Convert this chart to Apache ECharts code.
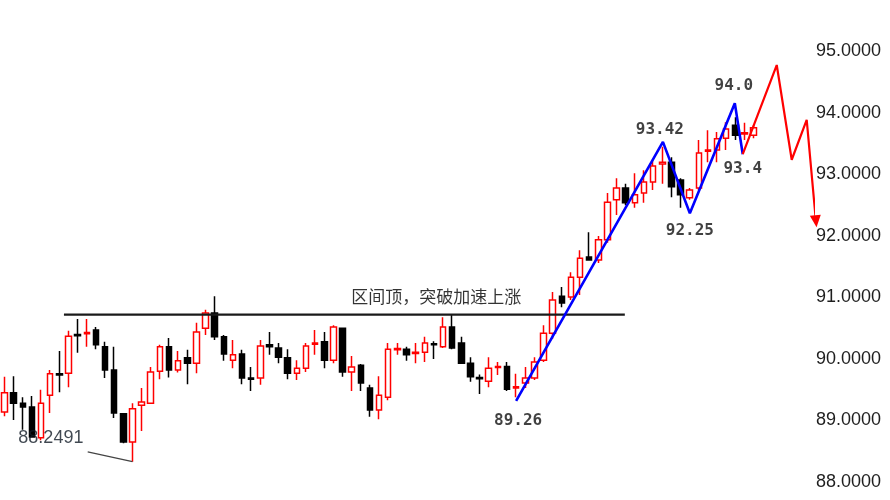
<!DOCTYPE html>
<html>
<head>
<meta charset="utf-8">
<script src="https://cdn.jsdelivr.net/npm/echarts@6/dist/echarts.min.js"></script>
<style>
  html, body { margin: 0; padding: 0; background: #fff; }
  #chart { width: 890px; height: 500px; }
</style>
</head>
<body>
<div id="chart"></div>
<script>
// ---- Candles (open / close / low / high), one per bar ----
const opens  = [89.14,89.45,89.28,89.22,88.72,89.41,89.76,89.77,90.40,90.41,90.47,90.20,89.82,89.11,88.65,89.25,89.28,89.80,90.20,89.82,90.02,89.93,90.50,90.75,90.36,89.98,90.08,89.69,89.69,90.23,90.18,90.02,89.77,89.85,90.24,90.28,89.98,90.50,89.79,89.90,89.53,89.17,89.38,90.15,90.16,90.09,90.11,90.25,90.20,90.52,90.26,89.93,89.70,89.64,89.86,89.88,89.53,89.61,89.69,89.98,90.42,91.02,91.01,91.33,91.66,91.61,91.94,92.59,92.78,92.54,92.70,92.88,93.17,93.20,92.91,92.62,92.78,93.38,93.40,93.59,93.80,93.66,93.64];
const closes = [89.45,89.28,89.22,88.73,89.28,89.76,89.74,90.37,90.38,90.43,90.23,89.82,89.12,88.65,89.19,89.30,89.79,90.20,89.82,89.97,89.93,90.44,90.75,90.36,90.08,90.07,89.69,89.67,90.21,90.20,90.03,89.77,89.85,90.21,90.26,89.98,90.52,89.79,89.87,89.61,89.17,89.41,90.16,90.17,90.07,90.11,90.26,90.23,90.52,90.18,89.93,89.71,89.68,89.85,89.88,89.51,89.55,89.69,89.95,90.42,90.96,90.91,91.33,91.64,91.61,91.94,92.55,92.78,92.54,92.67,92.88,93.14,93.20,92.80,92.67,92.75,93.35,93.40,93.58,93.74,93.64,93.68,93.76];
const lows   = [89.07,89.01,88.85,88.72,88.68,89.12,89.46,89.54,90.10,90.20,90.16,89.69,89.04,88.63,88.33,88.83,89.27,89.67,89.70,89.78,89.59,89.77,90.39,90.31,89.97,89.85,89.59,89.48,89.58,90.07,89.93,89.67,89.66,89.79,90.07,89.85,89.93,89.71,89.48,89.48,89.06,89.02,89.33,90.07,89.97,89.93,89.95,90.00,90.18,90.16,89.92,89.63,89.43,89.54,89.74,89.48,89.38,89.53,89.66,89.95,90.33,90.84,90.96,91.04,91.61,91.56,91.89,92.34,92.50,92.46,92.54,92.75,92.85,92.63,92.46,92.59,92.75,93.20,93.20,93.40,93.56,93.56,93.59];
const highs  = [89.71,89.72,89.38,89.40,89.50,89.82,90.13,90.46,90.65,90.65,90.52,90.28,90.20,89.11,89.28,89.53,89.87,90.23,90.34,90.13,90.15,90.59,90.80,91.02,90.39,90.31,90.15,89.87,90.31,90.44,90.26,90.16,89.98,90.26,90.47,90.44,90.55,90.51,90.05,89.92,89.58,89.72,90.26,90.26,90.20,90.26,90.36,90.29,90.68,90.72,90.36,90.03,89.75,90.03,89.95,89.95,89.76,89.87,90.03,90.55,91.09,91.17,91.41,91.77,92.06,92.00,92.70,92.94,92.85,93.02,93.07,93.24,93.45,93.28,92.94,92.78,93.56,93.72,93.69,93.85,93.93,93.84,93.80];

// total bar slots on the axis (candles plus room for the projection)
const slotCount = 89;
const categories = Array.from({ length: slotCount }, (_, i) => 'B' + (i + 1));

// ---- Price axis ----
const yMin = 88, yMax = 95, yStep = 1;

// ---- Drawn lines, [bar position, price] ----
const resistanceLine = [[6.5, 90.72], [67.9, 90.72]];
const lowMarkLine    = [[9.1, 88.49], [14.0, 88.33]];
const blueWave       = [[56.0, 89.32], [72.07, 93.53], [75.02, 92.37], [79.94, 94.16], [80.81, 93.33]];
const redProjection  = [[80.81, 93.33], [84.53, 94.78], [86.17, 93.24], [87.81, 93.89], [88.82, 92.24]];

// ---- Text annotations, [bar position, price, text] ----
const lowLabel    = [[5.07, 88.71, '88.2491']];
const waveLabels  = [[56.22, 88.99, '89.26'], [71.74, 93.73, '93.42'], [75.02, 92.08, '92.25'], [79.83, 94.44, '94.0'], [80.81, 93.10, '93.4']];
const noteLabels  = [[47.26, 91.02, '区间顶，突破加速上涨']];

const candleData = opens.map((o, i) => [o, closes[i], lows[i], highs[i]]);

function textSeries(list, style) {
  return {
    type: 'scatter', xAxisIndex: 1, yAxisIndex: 0,
    symbolSize: 1, itemStyle: { color: 'transparent' },
    silent: true, z: 10,
    label: Object.assign({ show: true, position: 'inside', formatter: p => p.data.name }, style),
    data: list.map(d => ({ name: d[2], value: [d[0], d[1]] }))
  };
}

const chart = echarts.init(document.getElementById('chart'), null, { renderer: 'canvas' });
chart.setOption({
  animation: false,
  backgroundColor: '#ffffff',
  grid: { left: -1, right: 77, top: 51.5, bottom: 18, containLabel: false },
  xAxis: [
    { type: 'category', data: categories, boundaryGap: true, show: false },
    { type: 'value', min: -0.5, max: slotCount - 0.5, show: false }
  ],
  yAxis: {
    type: 'value', position: 'right', min: yMin, max: yMax, interval: yStep, scale: true,
    axisLine: { show: false }, axisTick: { show: false }, splitLine: { show: false },
    axisLabel: {
      margin: 3, color: '#1e1e1e', fontSize: 18, fontFamily: 'Liberation Sans',
      formatter: v => v.toFixed(4)
    }
  },
  series: [
    {
      type: 'candlestick', xAxisIndex: 0, yAxisIndex: 0,
      barWidth: 6,
      itemStyle: {
        color: '#ffffff', borderColor: '#ff0000',
        color0: '#000000', borderColor0: '#000000',
        borderWidth: 1.5
      },
      data: candleData
    },
    {
      type: 'line', xAxisIndex: 1, data: resistanceLine, symbol: 'none', clip: false, z: 5,
      lineStyle: { color: '#1a1a1a', width: 2.2 }
    },
    {
      type: 'line', xAxisIndex: 1, data: lowMarkLine, symbol: 'none', clip: false, z: 5,
      lineStyle: { color: '#444444', width: 1.2 }
    },
    {
      type: 'line', xAxisIndex: 1, data: blueWave, symbol: 'none', clip: false, z: 6,
      lineStyle: { color: '#0000ff', width: 2.6 }
    },
    {
      type: 'line', xAxisIndex: 1, clip: false, z: 6, showSymbol: true, symbol: 'none',
      lineStyle: { color: '#ff0000', width: 2.2 },
      itemStyle: { color: '#ff0000' },
      data: redProjection.map((p, i) => i === redProjection.length - 1
        ? { value: p, symbol: 'triangle', symbolSize: [11, 12], symbolRotate: 186 }
        : { value: p })
    },
    textSeries(lowLabel,   { fontSize: 18, fontFamily: 'Liberation Sans', color: '#101a26' }),
    textSeries(waveLabels, { fontSize: 16, fontFamily: 'DejaVu Sans Mono', fontWeight: 'bold', color: '#111111', textBorderWidth: 0 }),
    textSeries(noteLabels, { fontSize: 17, fontFamily: 'Noto Sans CJK SC', color: '#000000' })
  ]
});
</script>
</body>
</html>
